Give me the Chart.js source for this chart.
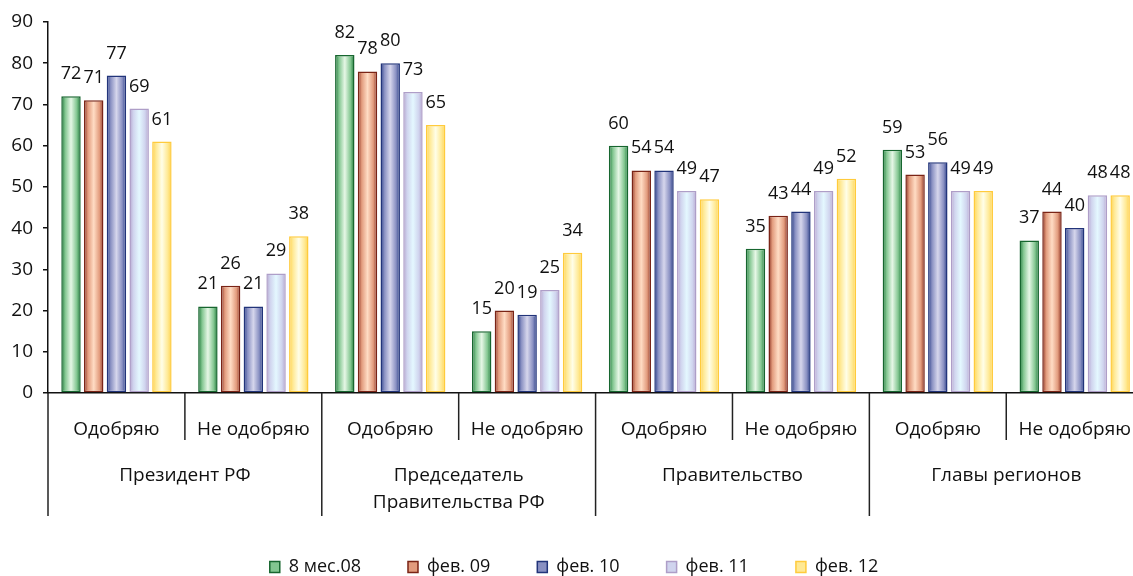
<!DOCTYPE html>
<html>
<head>
<meta charset="utf-8">
<script src="https://cdn.jsdelivr.net/npm/chart.js@4.4.1/dist/chart.umd.min.js"></script>
<style>
  html, body { margin: 0; padding: 0; background: #fff; overflow: hidden; }
  #wrap { width: 1148px; height: 600px; }
</style>
</head>
<body>
<div id="wrap"><canvas id="chart" width="1148" height="600"></canvas></div>
<script>
// sub categories on the axis, and the groups they belong to (two per group)
const categories = ["Одобряю", "Не одобряю", "Одобряю", "Не одобряю",
                    "Одобряю", "Не одобряю", "Одобряю", "Не одобряю"];
const groups = [["Президент РФ"], ["Председатель", "Правительства РФ"],
                ["Правительство"], ["Главы регионов"]];

const seriesNames = ["8 мес.08", "фев. 09", "фев. 10", "фев. 11", "фев. 12"];
const aug08 = [72, 21, 82, 15, 60, 35, 59, 37];
const feb09 = [71, 26, 78, 20, 54, 43, 53, 44];
const feb10 = [77, 21, 80, 19, 54, 44, 56, 40];
const feb11 = [69, 29, 73, 25, 49, 49, 49, 48];
const feb12 = [61, 38, 65, 34, 47, 52, 49, 48];

const yMin = 0;
const yMax = 90;
const yStep = 10;

// edge / mid / light colours for the shaded bars
const palette = [
  { border: "#17662f", edge: "#1d7638", mid: "#82c690", light: "#e6f7e6" },
  { border: "#7a2416", edge: "#8a3121", mid: "#e29b7d", light: "#ffdcc4" },
  { border: "#22347a", edge: "#293d86", mid: "#8990c2", light: "#d6d6ec" },
  { border: "#ae9ec8", edge: "#b4a4ce", mid: "#d0d4ee", light: "#e4f8ff" },
  { border: "#ffcb3c", edge: "#ffd24c", mid: "#ffe994", light: "#fffee8" },
];

const FONT = "'Open Sans', 'Noto Sans', sans-serif";

const barShade = {
  id: "barShade",
  beforeDatasetsDraw(chart) {
    const ctx = chart.ctx;
    chart.data.datasets.forEach((ds, i) => {
      const pal = palette[i];
      chart.getDatasetMeta(i).data.forEach(bar => {
        const half = bar.width / 2;
        const g = ctx.createLinearGradient(bar.x - half, 0, bar.x + half, 0);
        g.addColorStop(0, pal.edge);
        g.addColorStop(0.2, pal.mid);
        g.addColorStop(0.5, pal.light);
        g.addColorStop(0.8, pal.mid);
        g.addColorStop(1, pal.edge);
        bar.options = Object.assign({}, bar.options, { backgroundColor: g });
      });
    });
  }
};

const valueLabels = {
  id: "valueLabels",
  afterDatasetsDraw(chart) {
    const ctx = chart.ctx;
    ctx.save();
    ctx.font = "18px " + FONT;
    ctx.fillStyle = "#111";
    ctx.textAlign = "center";
    ctx.textBaseline = "alphabetic";
    chart.data.datasets.forEach((ds, i) => {
      chart.getDatasetMeta(i).data.forEach((bar, j) => {
        ctx.fillText(String(ds.data[j]), bar.x, bar.y - 17);
      });
    });
    ctx.restore();
  }
};

// separators and the second row of category labels
const groupAxis = {
  id: "groupAxis",
  afterDraw(chart) {
    const x = chart.scales.x;
    const ctx = chart.ctx;
    const step = (x.right - x.left) / categories.length;
    ctx.save();
    ctx.strokeStyle = "#222";
    ctx.lineWidth = 1.5;
    for (let i = 0; i <= categories.length; i++) {
      const px = x.left + i * step;
      const len = i % 2 === 0 ? 123 : 47;
      ctx.beginPath();
      ctx.moveTo(px, x.top);
      ctx.lineTo(px, x.top + len);
      ctx.stroke();
    }
    ctx.font = "19px " + FONT;
    ctx.fillStyle = "#111";
    ctx.textAlign = "center";
    ctx.textBaseline = "middle";
    groups.forEach((lines, g) => {
      const cx = (x.getPixelForValue(2 * g) + x.getPixelForValue(2 * g + 1)) / 2;
      lines.forEach((t, k) => ctx.fillText(t, cx, x.top + 83 + k * 27));
    });
    ctx.restore();
  }
};

const seriesData = [aug08, feb09, feb10, feb11, feb12];

new Chart(document.getElementById("chart"), {
  type: "bar",
  data: {
    labels: categories,
    datasets: seriesData.map((vals, i) => ({
      label: seriesNames[i],
      data: vals,
      backgroundColor: palette[i].mid,
      borderColor: palette[i].border,
      borderWidth: 1.5,
      borderSkipped: false,
      categoryPercentage: 0.83,
      barPercentage: 0.855,
    })),
  },
  options: {
    responsive: false,
    animation: false,
    layout: { padding: { top: 22, left: 0, right: 0, bottom: 14 } },
    plugins: {
      title: { display: false },
      tooltip: { enabled: false },
      legend: {
        position: "bottom",
        labels: {
          boxWidth: 10,
          boxHeight: 11,
          padding: 47,
          color: "#111",
          font: { family: FONT, size: 18 },
        },
      },
    },
    scales: {
      x: {
        grid: { display: false },
        border: { display: true, color: "#111", width: 1.5 },
        ticks: { color: "#111", padding: 17, maxRotation: 0, autoSkip: false,
                 font: { family: FONT, size: 19 } },
        afterFit(scale) { scale.height = 118; },
      },
      y: {
        min: yMin,
        max: yMax,
        grid: { display: true, drawOnChartArea: false, drawTicks: true,
                tickLength: 5, color: "#111", lineWidth: 1.5 },
        border: { display: true, color: "#111", width: 1.5 },
        ticks: { stepSize: yStep, color: "#111", padding: 10,
                 font: { family: FONT, size: 19 } },
        afterFit(scale) { scale.width = 48; },
      },
    },
  },
  plugins: [barShade, valueLabels, groupAxis],
});
</script>
</body>
</html>
